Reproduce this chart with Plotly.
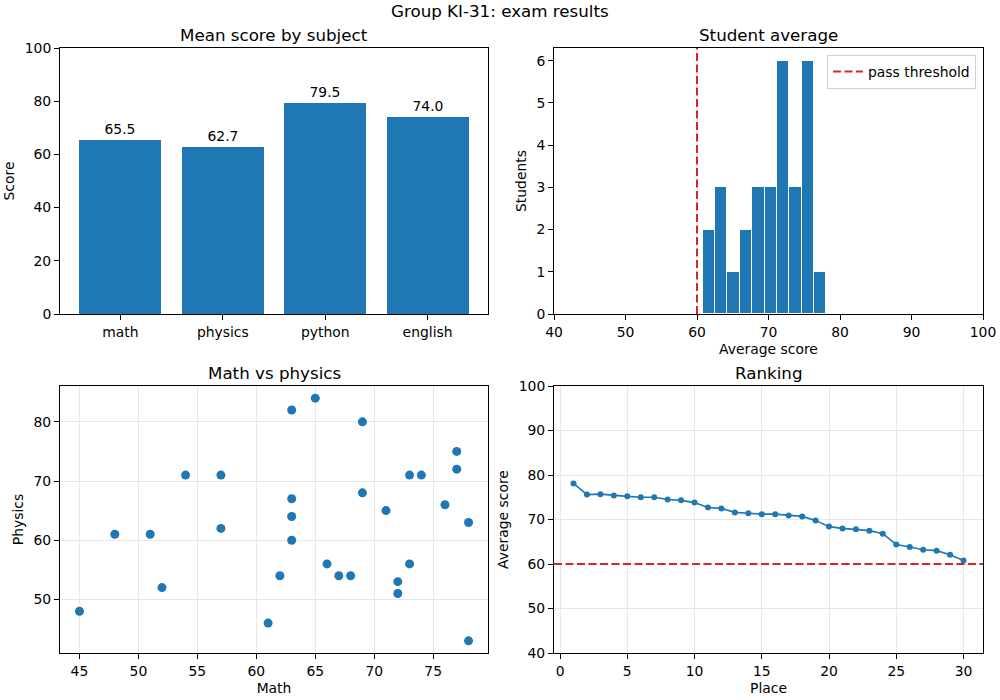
import numpy as np
import plotly.graph_objects as go

# ---------------- data ----------------
subjects = ["math", "physics", "python", "english"]
subject_means = [65.5, 62.7, 79.5, 74.0]

math_scores = [45, 48, 51, 52, 54, 57, 57, 61, 62, 63, 63, 63, 63, 65, 66,
               67, 68, 69, 69, 71, 72, 72, 73, 73, 74, 76, 77, 77, 78, 78]
physics_scores = [48, 61, 61, 52, 71, 71, 62, 46, 54, 82, 67, 64, 60, 84, 56,
                  54, 54, 80, 68, 65, 53, 51, 71, 56, 71, 66, 75, 72, 63, 43]

ranked_averages = [78.1, 75.6, 75.7, 75.4, 75.2, 75.0, 75.0, 74.5, 74.3, 73.8,
                   72.7, 72.5, 71.6, 71.4, 71.2, 71.2, 70.9, 70.7, 69.8, 68.4,
                   68.0, 67.8, 67.5, 66.8, 64.4, 63.8, 63.2, 63.0, 62.1, 60.8]
places = list(range(1, len(ranked_averages) + 1))

pass_threshold = 60
n_bins = 10

# ---------------- style ----------------
BLUE = "#1f77b4"
RED = "#d62728"
FONT = "DejaVu Sans"
FS = 13.9
TFS = 16.7
GRID = "#e7e7e7"

W, H = 1000, 700


def px_x(p):
    return p / W


def px_y(p):
    return 1 - p / H


counts, edges = np.histogram(ranked_averages, bins=n_bins)
centers = (edges[:-1] + edges[1:]) / 2
widths = np.diff(edges)

fig = go.Figure()

# Bar chart
fig.add_trace(go.Bar(
    x=subjects, y=subject_means, marker_color=BLUE, width=0.8,
    text=[f"{v:.1f}" for v in subject_means], textposition="outside",
    textfont=dict(size=FS, color="black", family=FONT), cliponaxis=False,
    showlegend=False, xaxis="x", yaxis="y"))

# Histogram
fig.add_trace(go.Bar(
    x=centers, y=counts, width=widths, marker=dict(color=BLUE, line=dict(color="white", width=1)),
    showlegend=False, xaxis="x2", yaxis="y2"))
fig.add_trace(go.Scatter(
    x=[pass_threshold, pass_threshold], y=[0, 6.3], mode="lines",
    line=dict(color=RED, width=2, dash="8px,3.5px"), name="pass threshold",
    xaxis="x2", yaxis="y2"))

# Scatter
fig.add_trace(go.Scatter(
    x=math_scores, y=physics_scores, mode="markers",
    marker=dict(color=BLUE, size=9), showlegend=False, xaxis="x3", yaxis="y3"))

# Ranking
fig.add_trace(go.Scatter(
    x=places, y=ranked_averages, mode="lines+markers",
    line=dict(color=BLUE, width=1.6), marker=dict(color=BLUE, size=6),
    showlegend=False, xaxis="x4", yaxis="y4"))
fig.add_trace(go.Scatter(
    x=[-0.45, 31.45], y=[pass_threshold, pass_threshold], mode="lines",
    line=dict(color=RED, width=2, dash="8px,3.5px"), showlegend=False,
    xaxis="x4", yaxis="y4"))


def ax(domain, anchor, rng=None, dtick=None, grid=False, title=None, standoff=6, **kw):
    d = dict(domain=domain, anchor=anchor, showline=True, mirror=True, linecolor="black",
             linewidth=1, ticks="outside", ticklen=5, tickcolor="black", tickwidth=1,
             showgrid=grid, gridcolor=GRID, gridwidth=1, zeroline=False, automargin=False,
             tickfont=dict(family=FONT, size=FS, color="black"))
    if rng is not None:
        d["range"] = rng
    if dtick is not None:
        d["dtick"] = dtick
    if title is not None:
        d["title"] = dict(text=title, font=dict(family=FONT, size=FS, color="black"), standoff=standoff)
    d.update(kw)
    return d


xL = [px_x(60), px_x(488)]
xR = [px_x(554), px_x(983)]
yT = [px_y(314), px_y(48)]
yB = [px_y(653), px_y(386)]

fig.update_layout(
    width=W, height=H,
    margin=dict(l=0, r=0, t=0, b=0),
    template="none",
    paper_bgcolor="white", plot_bgcolor="white",
    font=dict(family=FONT, size=FS, color="black"),
    bargap=0,
    xaxis=ax(xL, "y", rng=[-0.59, 3.59]),
    yaxis=ax(yT, "x", rng=[0, 100], dtick=20, title="Score"),
    xaxis2=ax(xR, "y2", rng=[40, 100], dtick=10, title="Average score", standoff=5),
    yaxis2=ax(yT, "x2", rng=[0, 6.3], dtick=1, title="Students"),
    xaxis3=ax(xL, "y3", rng=[43.35, 79.65], dtick=5, grid=True, title="Math", standoff=5),
    yaxis3=ax(yB, "x3", rng=[40.95, 86.05], tick0=50, dtick=10, grid=True, title="Physics"),
    xaxis4=ax(xR, "y4", rng=[-0.45, 31.45], tick0=0, dtick=5, grid=True, title="Place", standoff=5),
    yaxis4=ax(yB, "x4", rng=[40, 100], dtick=10, grid=True, title="Average score"),
    legend=dict(x=px_x(976), y=px_y(55), xanchor="right", yanchor="top",
                bgcolor="white", bordercolor="#d0d0d0", borderwidth=1,
                font=dict(family=FONT, size=FS, color="black")),
)

titles = [("Group KI-31: exam results", px_x(500), px_y(11), TFS),
          ("Mean score by subject", sum(xL) / 2, px_y(35), TFS),
          ("Student average", sum(xR) / 2, px_y(35), TFS),
          ("Math vs physics", sum(xL) / 2, px_y(373), TFS),
          ("Ranking", sum(xR) / 2, px_y(373), TFS)]
for text, x, y, size in titles:
    fig.add_annotation(text=text, x=x, y=y, xref="paper", yref="paper",
                       xanchor="center", yanchor="middle", showarrow=False,
                       font=dict(family=FONT, size=size, color="black"))

fig.write_html("out.html",
               config={"displayModeBar": False},
               post_script="document.body.style.margin='0';document.body.style.overflow='hidden';")
